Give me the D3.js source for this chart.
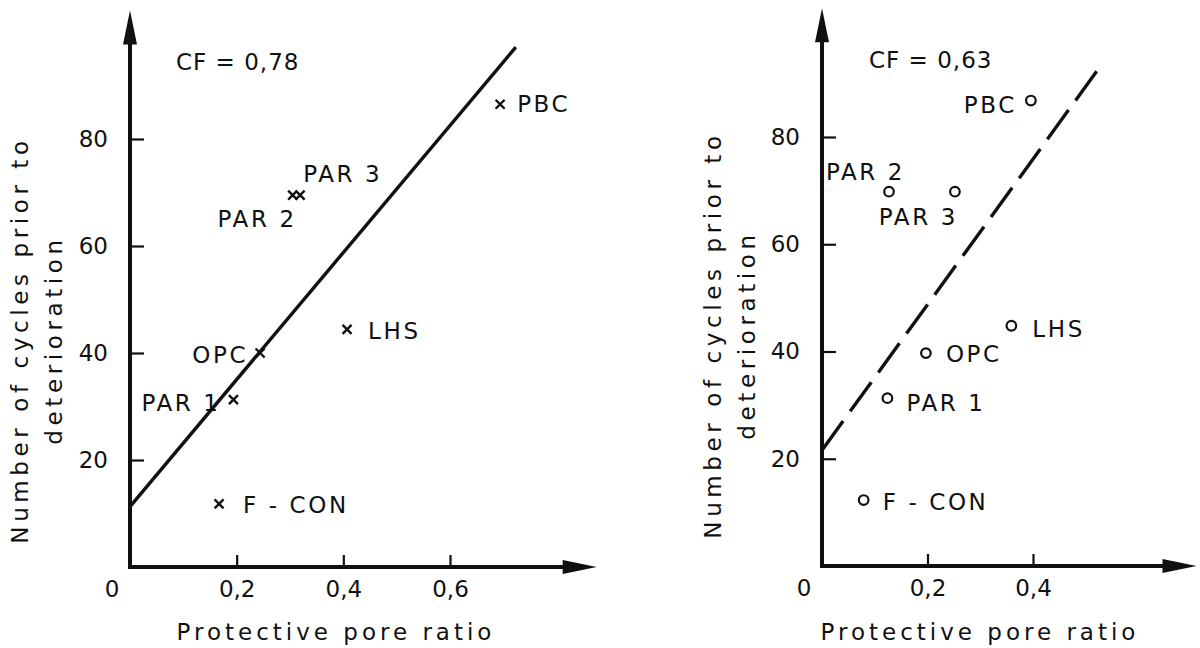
<!DOCTYPE html>
<html>
<head>
<meta charset="utf-8">
<script src="https://cdn.jsdelivr.net/npm/d3@7"></script>
<style>
  body { margin: 0; background: #fff; }
  svg { display: block; }
  text { font-family: "DejaVu Sans", sans-serif; fill: #111; }
</style>
</head>
<body>
<svg id="chart" width="1200" height="648"></svg>
<script>
// sample names, shared by both panels
const names = ["PBC", "PAR 3", "PAR 2", "OPC", "PAR 1", "LHS", "F - CON"];

// left panel: cycles vs protective pore ratio (crosses)
const leftRatio  = [0.694, 0.319, 0.305, 0.244, 0.194, 0.407, 0.167];
const leftCycles = [86.5, 69.5, 69.5, 40.0, 31.3, 44.4, 11.8];
const leftFit = { intercept: 11.3, slope: 118.7, xEnd: 0.7235 };
const leftCF = "CF = 0,78";

// right panel: second test series (circles)
const rightRatio  = [0.396, 0.252, 0.127, 0.197, 0.124, 0.359, 0.079];
const rightCycles = [86.8, 69.8, 69.8, 39.7, 31.3, 44.8, 12.3];
const rightFit = { intercept: 21.6, slope: 135.7, xEnd: 0.524 };
const rightCF = "CF = 0,63";

const yTicks = [20, 40, 60, 80];
const leftXTicks = [0.2, 0.4, 0.6];
const rightXTicks = [0.2, 0.4];

// label placement relative to the marker: [dx, dy, anchor]
const leftLabelPos = [[17, 8, "start"], [3, -13, "start"], [4, 32, "end"], [-12, 10, "end"],
                      [-13, 11, "end"], [21, 10, "start"], [24, 9, "start"]];
const rightLabelPos = [[-14, 12, "end"], [3, 33, "end"], [16, -12, "end"], [20, 9, "start"],
                       [19, 13, "start"], [21, 11, "start"], [19, 10, "start"]];

const svg = d3.select("#chart");
const fmt = v => d3.format(".1f")(v).replace(".", ",");

function panel(cfg) {
  const { x, y, ratio, cycles, fit, cf, xTicks, labelPos, marker, dashed, xMax, yMax, titleX, titleY, cfPos } = cfg;
  const g = svg.append("g");

  // y axis, ticks pointing inward
  const yAxis = g.append("g")
      .attr("transform", `translate(${x(0)},0)`)
      .call(d3.axisLeft(y).tickValues(yTicks).tickSizeInner(-14).tickSizeOuter(0).tickPadding(22).tickFormat(d3.format("d")));
  yAxis.select(".domain").remove();
  yAxis.selectAll(".tick line").attr("stroke", "#111").attr("stroke-width", 2.2);
  yAxis.selectAll("text").attr("font-size", 23).attr("fill", "#111").attr("font-family", "DejaVu Sans");

  const xAxis = g.append("g")
      .attr("transform", `translate(0,${y(0)})`)
      .call(d3.axisBottom(x).tickValues(xTicks).tickSizeInner(-12).tickSizeOuter(0).tickPadding(14).tickFormat(fmt));
  xAxis.select(".domain").remove();
  xAxis.selectAll(".tick line").attr("stroke", "#111").attr("stroke-width", 2.2);
  xAxis.selectAll("text").attr("font-size", 23).attr("fill", "#111").attr("font-family", "DejaVu Sans");

  g.append("text")
      .attr("x", x(0) - 18).attr("y", y(0) + 30)
      .attr("text-anchor", "middle").attr("font-size", 23)
      .text("0");

  // axis lines with arrow heads
  g.append("line").attr("x1", x(0)).attr("y1", y(0) + 2).attr("x2", x(0)).attr("y2", y(yMax) + 20)
      .attr("stroke", "#111").attr("stroke-width", 4);
  g.append("line").attr("x1", x(0) - 2).attr("y1", y(0)).attr("x2", x(xMax) - 20).attr("y2", y(0))
      .attr("stroke", "#111").attr("stroke-width", 4);
  g.append("path")
      .attr("d", `M${x(0)},${y(yMax)}L${x(0) + 7},${y(yMax) + 34}L${x(0) - 7},${y(yMax) + 34}Z`)
      .attr("fill", "#111");
  g.append("path")
      .attr("d", `M${x(xMax)},${y(0)}L${x(xMax) - 34},${y(0) - 7}L${x(xMax) - 34},${y(0) + 7}Z`)
      .attr("fill", "#111");

  // fitted line
  g.append("line")
      .attr("x1", x(0)).attr("y1", y(fit.intercept))
      .attr("x2", x(fit.xEnd)).attr("y2", y(fit.intercept + fit.slope * fit.xEnd))
      .attr("stroke", "#111").attr("stroke-width", 3.4)
      .attr("stroke-dasharray", dashed ? "36 12" : null);

  const pts = g.append("g").selectAll("g")
      .data(names.map((n, i) => ({ name: n, rx: ratio[i], cy: cycles[i], pos: labelPos[i] })))
      .join("g")
      .attr("transform", d => `translate(${x(d.rx)},${y(d.cy)})`);

  if (marker === "cross") {
    pts.append("path").attr("d", "M-4.5,-4.5L4.5,4.5M4.5,-4.5L-4.5,4.5")
        .attr("stroke", "#111").attr("stroke-width", 2.4);
  } else {
    pts.append("circle").attr("r", 4.8)
        .attr("fill", "#fff").attr("stroke", "#111").attr("stroke-width", 2.2);
  }

  pts.append("text")
      .attr("x", d => d.pos[0]).attr("y", d => d.pos[1])
      .attr("text-anchor", d => d.pos[2])
      .attr("font-size", 23).attr("letter-spacing", 2.6)
      .text(d => d.name);

  g.append("text")
      .attr("x", cfPos[0]).attr("y", cfPos[1])
      .attr("font-size", 23).attr("letter-spacing", 1)
      .text(cf);

  // axis titles
  g.append("text")
      .attr("x", titleX).attr("y", 640)
      .attr("text-anchor", "middle").attr("font-size", 23).attr("letter-spacing", 4)
      .text("Protective pore ratio");

  const yt = g.append("text")
      .attr("transform", `translate(${titleY[0]},${titleY[1]}) rotate(-90)`)
      .attr("text-anchor", "middle").attr("font-size", 23).attr("letter-spacing", 4.6);
  yt.append("tspan").attr("x", 0).attr("y", 0).text("Number of cycles prior to");
  yt.append("tspan").attr("x", 0).attr("y", 34).text("deterioration");
}

panel({
  x: d3.scaleLinear().domain([0, 0.6]).range([130, 450]),
  y: d3.scaleLinear().domain([0, 80]).range([567, 139]),
  ratio: leftRatio, cycles: leftCycles, fit: leftFit, cf: leftCF,
  xTicks: leftXTicks, labelPos: leftLabelPos, marker: "cross", dashed: false,
  xMax: 0.875, yMax: 104, titleX: 336, titleY: [28, 340], cfPos: [176, 70]
});

panel({
  x: d3.scaleLinear().domain([0, 0.4]).range([822, 1033]),
  y: d3.scaleLinear().domain([0, 80]).range([566, 137]),
  ratio: rightRatio, cycles: rightCycles, fit: rightFit, cf: rightCF,
  xTicks: rightXTicks, labelPos: rightLabelPos, marker: "circle", dashed: true,
  xMax: 0.71, yMax: 104, titleX: 980, titleY: [721, 335], cfPos: [869, 68]
});
</script>
</body>
</html>
